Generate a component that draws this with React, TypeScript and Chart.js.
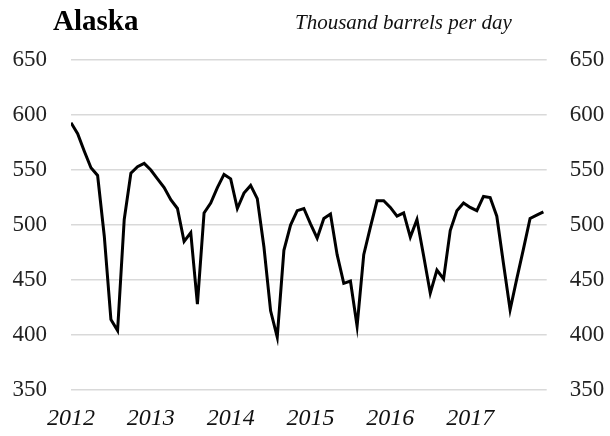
import React, { useEffect, useRef } from "react";
import { Chart, registerables } from "chart.js";

Chart.register(...registerables);

const title = "Alaska";
const unitLabel = "Thousand barrels per day";
const startYear = 2012;
const yearLabels = ["2012", "2013", "2014", "2015", "2016", "2017"];
const yTicks = [350, 400, 450, 500, 550, 600, 650];

const values2012 = [593, 583, 567, 552, 545, 490, 414, 404, 505, 547, 553, 556];
const values2013 = [550, 542, 534, 523, 515, 485, 493, 428, 511, 520, 534, 546];
const values2014 = [542, 515, 529, 536, 524, 480, 422, 398, 477, 500, 513, 515];
const values2015 = [501, 488, 506, 510, 473, 447, 449, 408, 473, 498, 522, 522];
const values2016 = [516, 508, 511, 489, 505, 472, 438, 459, 451, 495, 513, 520];
const values2017 = [516, 513, 526, 525, 508, 465, 423, 451, 478, 506, 509, 512];

const monthlyValues = [
  ...values2012,
  ...values2013,
  ...values2014,
  ...values2015,
  ...values2016,
  ...values2017,
];

const FONT = "'Liberation Serif', 'Times New Roman', serif";

export default function App() {
  const ref = useRef<HTMLCanvasElement | null>(null);

  useEffect(() => {
    if (!ref.current) return;
    const titlePlugin = {
      id: "titles",
      afterDraw(chart: any) {
        const ctx = chart.ctx;
        ctx.save();
        ctx.fillStyle = "#000";
        ctx.textBaseline = "alphabetic";
        ctx.textAlign = "left";
        ctx.font = `bold 29px ${FONT}`;
        ctx.fillText(title, 53, 30);
        ctx.font = `italic 21px ${FONT}`;
        ctx.fillStyle = "#111";
        ctx.fillText(unitLabel, 295, 29);
        ctx.restore();
      },
    };

    const chart = new Chart(ref.current, {
      type: "line",
      data: {
        datasets: [
          {
            label: title,
            data: monthlyValues.map((v, i) => ({ x: i, y: v })),
            borderColor: "#000",
            borderWidth: 3,
            pointRadius: 0,
            tension: 0,
            fill: false,
          },
        ],
      },
      options: {
        animation: false,
        responsive: false,
        devicePixelRatio: 1,
        layout: { padding: { top: 60, left: 0, right: 0, bottom: 0 } },
        plugins: {
          legend: { display: false },
          title: { display: false },
          tooltip: { enabled: false },
        },
        scales: {
          x: {
            type: "linear",
            min: 0,
            max: 71.5,
            grid: { display: false, drawTicks: false },
            border: { display: false },
            afterFit: (s: any) => {
              s.height = 46;
            },
            ticks: {
              stepSize: 12,
              includeBounds: false,
              autoSkip: false,
              maxRotation: 0,
              padding: 14,
              color: "#111",
              font: { family: FONT, size: 24, style: "italic" },
              callback: (v: any) => {
                const idx = Math.round(Number(v) / 12);
                return Number(v) % 12 === 0 && yearLabels[idx] !== undefined
                  ? yearLabels[idx]
                  : String(startYear + idx);
              },
            },
          },
          y: {
            position: "left",
            min: yTicks[0],
            max: yTicks[yTicks.length - 1],
            afterFit: (s: any) => {
              s.width = 71;
            },
            grid: { color: "#d9d9d9", lineWidth: 1.6, drawTicks: false },
            border: { display: false },
            ticks: {
              stepSize: 50,
              padding: 24,
              color: "#222",
              font: { family: FONT, size: 23 },
            },
          },
          y2: {
            position: "right",
            min: yTicks[0],
            max: yTicks[yTicks.length - 1],
            afterFit: (s: any) => {
              s.width = 63.3;
            },
            grid: { display: false, drawTicks: false },
            border: { display: false },
            ticks: {
              stepSize: 50,
              padding: 23,
              color: "#222",
              font: { family: FONT, size: 23 },
            },
          },
        },
      },
      plugins: [titlePlugin],
    } as any);
    return () => chart.destroy();
  }, []);

  return (
    <div style={{ position: "absolute", left: 0, top: 0, width: 610, height: 436, background: "#fff" }}>
      <canvas ref={ref} width={610} height={436} style={{ display: "block" }} />
    </div>
  );
}
